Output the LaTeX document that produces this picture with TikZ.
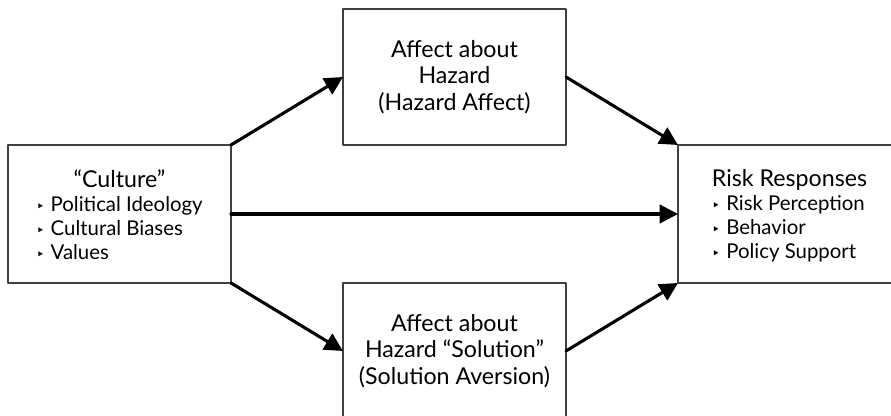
\documentclass[tikz,border=0pt]{standalone}
\usepackage{fontspec}
\setmainfont{Lato}
\newfontfamily\symfont{DejaVu Sans}
\usetikzlibrary{arrows.meta}
\newcommand\tribul{{\symfont\fontsize{10pt}{10pt}\selectfont ‣}\hspace{0.3em}}
\begin{document}
\begin{tikzpicture}[line cap=round, line join=round,
    box/.style={draw=black!75, line width=0.85pt, inner sep=0pt, outer sep=0pt,
      minimum width=5.575cm, minimum height=3.45cm, align=center,
      font=\fontsize{16.5pt}{18.9pt}\selectfont},
    listbox/.style={box, font=\fontsize{16.5pt}{17.1pt}\selectfont},
    link/.style={line width=2.2pt, -{Triangle[length=13pt,width=13pt]}}]
  \useasboundingbox (0,0) rectangle (22.275,10.4);
  \clip (0,0) rectangle (22.275,10.4);
  % boxes
  \node[listbox] (culture) at (2.9875,5.05) {\raisebox{-0.1cm}[\height][\depth]{%
    \begin{tabular}{@{}l@{}}
      \multicolumn{1}{@{}c@{}}{“Culture”}\\
      \fontsize{14.5pt}{17pt}\selectfont\tribul Political Ideology\\
      \fontsize{14.5pt}{17pt}\selectfont\tribul Cultural Biases\\
      \fontsize{14.5pt}{17pt}\selectfont\tribul Values
    \end{tabular}}};
  \node[box, minimum height=3.4cm] (hazard) at (11.3625,8.475)
    {Affect about\\Hazard\\(Hazard Affect)};
  \node[box, minimum height=3.4cm] (solution) at (11.3625,1.625)
    {Affect about\\Hazard “Solution”\\(Solution Aversion)};
  \node[listbox] (risk) at (19.7375,5.05) {\raisebox{-0.1cm}[\height][\depth]{%
    \begin{tabular}{@{}l@{}}
      \multicolumn{1}{@{}c@{}}{Risk Responses}\\
      \fontsize{14.5pt}{17pt}\selectfont\tribul Risk Perception\\
      \fontsize{14.5pt}{17pt}\selectfont\tribul Behavior\\
      \fontsize{14.5pt}{17pt}\selectfont\tribul Policy Support
    \end{tabular}}};
  % arrows
  \draw[link] (culture.north east) -- (hazard.west);
  \draw[link] (hazard.east) -- (risk.north west);
  \draw[link] (culture.east) -- (risk.west);
  \draw[link] (culture.south east) -- (solution.west);
  \draw[link] (solution.east) -- (risk.south west);
\end{tikzpicture}
\end{document}
